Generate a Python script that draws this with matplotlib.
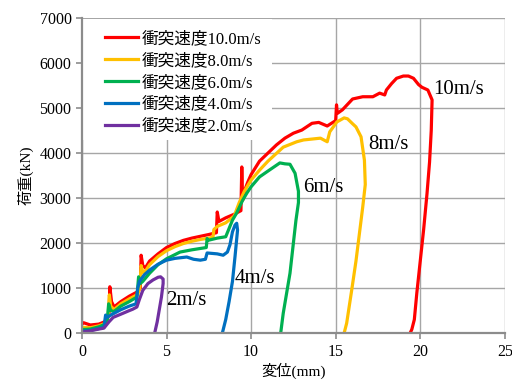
import matplotlib
matplotlib.use("Agg")
import matplotlib.pyplot as plt
from matplotlib.patches import Rectangle

# 衝突速度ごとの荷重-変位曲線
red_x = [0, 0.1, 0.5, 1.0, 1.4, 1.6, 1.65, 1.75, 1.9, 2.3, 2.8, 3.3, 3.45, 3.5, 3.6, 3.75, 4.0, 4.5,
         5.0, 5.5, 6.0, 6.5, 7.0, 7.5, 7.95, 8.0, 8.1, 8.5, 9.0, 9.4, 9.45, 9.5, 9.6, 9.8, 10.0, 10.5,
         11.0, 11.5, 12.0, 12.5, 13.0, 13.6, 14.0, 14.5, 15.0, 15.05, 15.1, 15.4, 15.7, 16.0, 16.6,
         17.2, 17.6, 17.9, 18.0, 18.3, 18.6, 19.0, 19.3, 19.6, 19.9, 20.1, 20.45, 20.7, 20.65, 20.55,
         20.4, 20.2, 20.0, 19.8, 19.65, 19.5, 19.4]
red_y = [200, 230, 180, 200, 260, 400, 1030, 700, 580, 700, 820, 920, 1000, 1730, 1500, 1450, 1600, 1760,
         1900, 1990, 2060, 2110, 2150, 2190, 2230, 2690, 2480, 2560, 2640, 2720, 3690, 2950, 3150, 3350, 3520, 3820,
         4000, 4180, 4330, 4440, 4510, 4660, 4680, 4600, 4720, 5070, 4880, 4960, 5080, 5200, 5250,
         5250, 5330, 5290, 5400, 5540, 5660, 5710, 5710, 5660, 5520, 5460, 5400, 5180, 4500, 3800,
         3100, 2300, 1600, 900, 300, 80, 0]

orange_x = [0, 0.5, 1.0, 1.4, 1.55, 1.62, 1.7, 1.9, 2.3, 2.8, 3.3, 3.42, 3.5, 3.6, 3.8, 4.0, 4.5, 5.0,
            5.5, 6.0, 6.5, 7.0, 7.5, 7.75, 7.8, 8.0, 8.5, 9.0, 9.3, 9.6, 10.0, 10.5, 11.0, 11.9, 12.7,
            13.1, 13.6, 14.1, 14.5, 14.65, 15.07, 15.5, 15.7, 16.0, 16.2, 16.5, 16.7, 16.75, 16.6, 16.4,
            16.2, 15.95, 15.65, 15.5]
orange_y = [130, 120, 160, 220, 350, 850, 600, 520, 650, 760, 860, 1000, 1500, 1350, 1400, 1520, 1700, 1830,
            1920, 1990, 2040, 2080, 2110, 2130, 2300, 2370, 2450, 2600, 2900, 3150, 3400, 3620, 3820, 4130, 4250,
            4290, 4310, 4330, 4250, 4470, 4690, 4780, 4760, 4650, 4580, 4360, 3840, 3300, 2800, 2200,
            1600, 960, 220, 0]

green_x = [0, 0.5, 1.0, 1.4, 1.5, 1.58, 1.7, 1.9, 2.3, 2.8, 3.25, 3.35, 3.45, 3.6, 4.0, 4.5, 5.0, 5.8,
           6.5, 7.0, 7.35, 7.4, 7.45, 8.0, 8.5, 8.9, 9.15, 9.5, 9.75, 10.0, 10.5, 11.0, 11.7, 12.0, 12.3,
           12.6, 12.8, 12.8, 12.65, 12.3, 11.9, 11.75]
green_y = [80, 90, 140, 200, 300, 650, 500, 480, 600, 700, 800, 1250, 1100, 1150, 1330, 1520, 1650, 1800,
           1850, 1880, 1900, 2100, 2060, 2110, 2140, 2510, 2670, 2950, 3110, 3250, 3470, 3600, 3780, 3760, 3750,
           3550, 3150, 2900, 2500, 1330, 440, 0]

blue_x = [0, 0.5, 1.0, 1.3, 1.4, 1.5, 1.8, 2.3, 2.8, 3.2, 3.3, 3.4, 3.7, 4.0, 4.5, 5.0, 5.5, 6.2, 6.6,
          7.0, 7.3, 7.4, 8.0, 8.35, 8.6, 8.75, 8.9, 9.05, 9.15, 9.2, 9.05, 8.9, 8.7, 8.5, 8.3]
blue_y = [40, 60, 100, 130, 400, 350, 420, 520, 600, 650, 1000, 1150, 1300, 1400, 1530, 1620, 1660, 1690, 1640,
          1620, 1640, 1780, 1760, 1730, 1800, 1960, 2250, 2400, 2440, 2290, 1700, 1150, 700, 300, 0]

purple_x = [0, 0.5, 1.0, 1.3, 1.6, 1.85, 2.3, 2.8, 3.0, 3.25, 3.4, 3.6, 3.9, 4.2, 4.5, 4.65, 4.8, 4.8,
            4.7, 4.6, 4.45, 4.3]
purple_y = [20, 50, 90, 110, 250, 350, 420, 500, 530, 580, 750, 950, 1100, 1180, 1240, 1250, 1200, 1100,
            800, 580, 250, 0]

labels = ["衝突速度10.0m/s", "衝突速度8.0m/s", "衝突速度6.0m/s", "衝突速度4.0m/s", "衝突速度2.0m/s"]
colors = ["#FF0000", "#FFC000", "#00B050", "#0070C0", "#7030A0"]
end_labels = ["10m/s", "8m/s", "6m/s", "4m/s", "2m/s"]
end_pos = [(20.75, 5400), (16.9, 4180), (13.05, 3240), (9.0, 1220), (4.95, 730)]

plt.rcParams['font.family'] = ['Liberation Serif', 'Noto Sans CJK JP']

fig = plt.figure(figsize=(5.12, 3.82), dpi=100)
ax = fig.add_axes([0.160, 0.128, 0.826, 0.825])

# white box behind the legend hides the grid there
ax.add_patch(Rectangle((0, 0.613), 0.449, 0.383, transform=ax.transAxes,
                       facecolor='white', edgecolor='none', zorder=1.5))

series = [(red_x, red_y), (orange_x, orange_y), (green_x, green_y), (blue_x, blue_y), (purple_x, purple_y)]
for (x, y), c, lab in zip(series, colors, labels):
    ax.plot(x, y, color=c, lw=2.3, label=lab, solid_joinstyle='round', zorder=2)

for txt, (tx, ty) in zip(end_labels, end_pos):
    ax.text(tx, ty, txt, fontsize=15, va='center', ha='left')

ax.set_xlim(0, 25)
ax.set_ylim(0, 7000)
ax.set_xticks(range(0, 26, 5))
ax.set_yticks(range(0, 7001, 1000))
ax.grid(True, color="#a6a6a6", lw=1.0)
ax.set_axisbelow(True)
for s in ["top", "right"]:
    ax.spines[s].set_visible(False)
for s in ["left", "bottom"]:
    ax.spines[s].set_color("#8c8c8c")
    ax.spines[s].set_linewidth(1.6)
    ax.spines[s].set_zorder(3)
ax.tick_params(direction='out', length=4, width=1.2, color="#8c8c8c", labelsize=11.5)

ax.set_xlabel("変位(mm)", fontsize=11, labelpad=2)
ax.set_ylabel("荷重(kN)", fontsize=11, labelpad=4)

leg = ax.legend(loc='upper left', bbox_to_anchor=(0.054, 0.958), fontsize=12, frameon=False,
                handlelength=2.0, handletextpad=0.2, labelspacing=0.35, borderpad=0.0,
                borderaxespad=0.0)

fig.savefig("out.png", dpi=100)
